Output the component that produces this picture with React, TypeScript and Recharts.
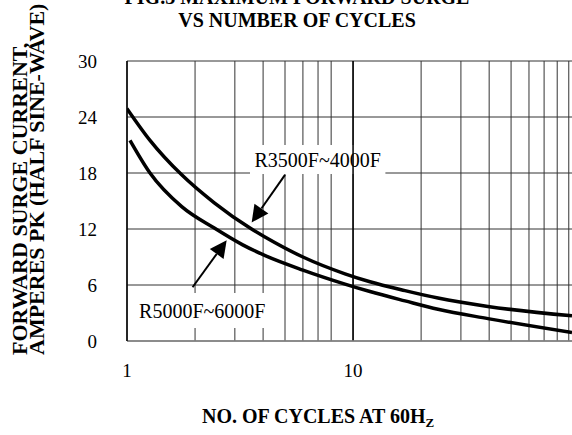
import React from 'react'
import {
  LineChart,
  Line,
  XAxis,
  YAxis,
  CartesianGrid,
  ReferenceArea,
  ReferenceLine,
} from 'recharts'

// cycles (log axis) and surge amps
const cyclesUpper = [1, 1.264, 1.746, 2.433, 3.5, 4.04, 6.0, 9.21, 11.88, 16.97, 23.75, 39.5, 93]
const surgeUpper = [24.9, 21.5, 17.8, 14.8, 12.1, 11.2, 9.0, 7.2, 6.35, 5.4, 4.6, 3.7, 2.7]

const cyclesLower = [1.031, 1.264, 1.746, 2.433, 3.25, 4.04, 6.0, 9.21, 11.88, 16.97, 23.75, 39.5, 93]
const surgeLower = [21.5, 18.0, 14.4, 12.1, 10.3, 9.2, 7.6, 6.1, 5.3, 4.3, 3.4, 2.4, 0.9]

const xTicks = [1, 2, 3, 4, 5, 6, 7, 8, 9, 10, 20, 30, 40, 50, 60, 70, 80, 90]
const xLabels = [1, 10, 100]
const yTicks = [0, 6, 12, 18, 24, 30]

const upperData = cyclesUpper.map((x, i) => ({ x, y: surgeUpper[i] }))
const lowerData = cyclesLower.map((x, i) => ({ x, y: surgeLower[i] }))

const serif = '"Liberation Serif", "Times New Roman", serif'

function Arrow(props: any) {
  const { x1, y1, x2, y2 } = props
  const dx = x2 - x1
  const dy = y2 - y1
  const len = Math.sqrt(dx * dx + dy * dy)
  const ux = dx / len
  const uy = dy / len
  const head = 17
  const half = 8.5
  const bx = x2 - ux * head
  const by = y2 - uy * head
  const pts = [
    `${x2},${y2}`,
    `${bx - uy * half},${by + ux * half}`,
    `${bx + uy * half},${by - ux * half}`,
  ].join(' ')
  return (
    <g>
      <line x1={x1} y1={y1} x2={bx} y2={by} stroke="#000" strokeWidth={2} />
      <polygon points={pts} fill="#000" />
    </g>
  )
}

export default function App() {
  return (
    <div style={{ position: 'absolute', left: 0, top: 0, width: 572, height: 435, overflow: 'hidden', background: '#fff' }}>
      <LineChart
        width={572}
        height={435}
        margin={{ top: 61, right: 0, bottom: 64, left: 67 }}
      >
        <CartesianGrid stroke="#333" strokeWidth={1} verticalValues={xTicks} />
        <XAxis
          dataKey="x"
          type="number"
          scale="log"
          domain={[1, 93]}
          allowDataOverflow
          ticks={xTicks}
          tickFormatter={(v: number) => (xLabels.includes(v) ? String(v) : '')}
          tickSize={0}
          tickMargin={23}
          height={30}
          axisLine={{ stroke: '#888', strokeWidth: 1.5 }}
          tick={{ fill: '#000', fontSize: 19, fontFamily: serif }}
        />
        <YAxis
          type="number"
          domain={[0, 30]}
          ticks={yTicks}
          tickSize={0}
          tickMargin={30}
          width={60}
          axisLine={{ stroke: '#000', strokeWidth: 1.5 }}
          tick={{ fill: '#000', fontSize: 19, fontFamily: serif }}
        />
        <ReferenceLine x={10} stroke="#000" strokeWidth={1.5} />
        <ReferenceArea
          x1={3.5}
          x2={13.9}
          y1={17.9}
          y2={21}
          fill="#fff"
          fillOpacity={1}
          stroke="none"
          label={{ value: 'R3500F~4000F', position: 'center', fill: '#000', fontSize: 20, fontFamily: serif }}
        />
        <ReferenceArea
          x1={1.03}
          x2={4.5}
          y1={1.4}
          y2={5.15}
          fill="#fff"
          fillOpacity={1}
          stroke="none"
          label={{ value: 'R5000F~6000F', position: 'center', fill: '#000', fontSize: 20, fontFamily: serif }}
        />
        <ReferenceLine segment={[{ x: 5.0, y: 17.8 }, { x: 3.56, y: 12.7 }]} shape={Arrow} />
        <ReferenceLine segment={[{ x: 1.95, y: 5.76 }, { x: 2.76, y: 10.8 }]} shape={Arrow} />
        <Line
          data={upperData}
          dataKey="y"
          type="monotone"
          stroke="#000"
          strokeWidth={3.5}
          dot={false}
          isAnimationActive={false}
        />
        <Line
          data={lowerData}
          dataKey="y"
          type="monotone"
          stroke="#000"
          strokeWidth={3.5}
          dot={false}
          isAnimationActive={false}
        />
      </LineChart>
      <svg
        width={572}
        height={435}
        style={{ position: 'absolute', left: 0, top: 0, pointerEvents: 'none' }}
      >
        <g fontFamily={serif} fontWeight="bold" fill="#000">
          <text x={297} y={4} textAnchor="middle" fontSize={20}>FIG.3 MAXIMUM FORWARD SURGE</text>
          <text x={297} y={27} textAnchor="middle" fontSize={20}>VS NUMBER OF CYCLES</text>
          <text transform="translate(27,355) rotate(-90)" textAnchor="start" fontSize={22}>FORWARD SURGE CURRENT,</text>
          <text transform="translate(44,355) rotate(-90)" textAnchor="start" fontSize={22}>AMPERES PK (HALF SINE-WAVE)</text>
          <text x={202} y={423} fontSize={20}>
            NO. OF CYCLES AT 60H<tspan fontSize={13} dy={4}>Z</tspan>
          </text>
        </g>
      </svg>
    </div>
  )
}
